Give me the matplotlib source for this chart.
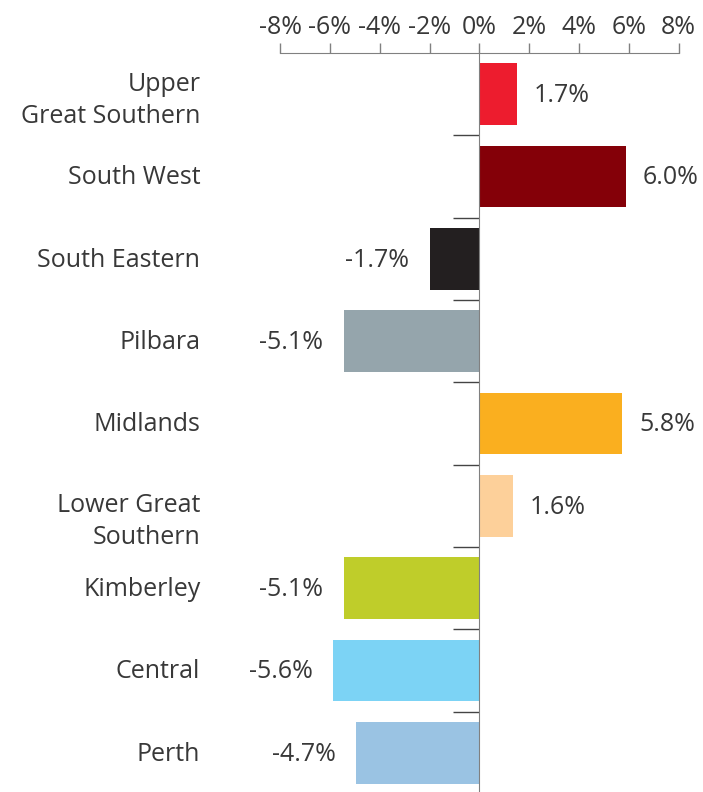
import matplotlib
matplotlib.use("Agg")
import matplotlib.pyplot as plt
from matplotlib.ticker import FixedLocator

regions = ["Upper\nGreat Southern", "South West", "South Eastern", "Pilbara",
           "Midlands", "Lower Great\nSouthern", "Kimberley", "Central", "Perth"]
# bar lengths as drawn in the picture
values = [1.5, 5.9, -1.97, -5.42, 5.74, 1.37, -5.42, -5.86, -4.94]
# printed labels
value_labels = ["1.7%", "6.0%", "-1.7%", "-5.1%", "5.8%", "1.6%", "-5.1%", "-5.6%", "-4.7%"]
colors = ["#ED1C2E", "#840008", "#231F20", "#95A5AC", "#FAAF1F",
          "#FDD09A", "#BFCD2A", "#7CD3F5", "#9AC3E3"]
xticks = [-8, -6, -4, -2, 0, 2, 4, 6, 8]

plt.rcParams["font.family"] = ["Open Sans", "DejaVu Sans"]
text_color = "#383838"
line_color = "#808080"
fs = 18

fig = plt.figure(figsize=(7.03, 7.92), dpi=100)
ax = fig.add_axes([280 / 703, -2 / 792, (678.7 - 280) / 703, 741 / 792])

ypos = list(range(len(regions)))
ax.barh(ypos, values, height=0.75, color=colors, zorder=2)

ax.set_xlim(-8, 8)
ax.set_ylim(len(regions) - 0.5, -0.5)

# top axis
ax.xaxis.tick_top()
ax.set_xticks(xticks)
ax.set_xticklabels([f"{t}%" for t in xticks], fontsize=fs, color=text_color)
ax.tick_params(axis="x", direction="out", length=7, width=1, color=line_color, pad=2)

# zero line carries the category separators
for s in ["right", "bottom"]:
    ax.spines[s].set_visible(False)
ax.spines["top"].set_color(line_color)
ax.spines["left"].set_position(("data", 0))
ax.spines["left"].set_color(line_color)
ax.spines["left"].set_zorder(3)
ax.yaxis.set_major_locator(FixedLocator([i + 0.5 for i in range(len(regions) - 1)]))
ax.set_yticklabels([])
ax.tick_params(axis="y", direction="out", length=19, width=1, color="#444444")

# two-line labels sit a little low in the original
label_shift = {0: -4.5, 5: -11}
for i, name in enumerate(regions):
    ax.annotate(name, (-11.2, i), xytext=(0, label_shift.get(i, -1)),
                textcoords="offset points", ha="right", va="center",
                fontsize=fs, color=text_color, linespacing=1.38,
                annotation_clip=False)

for i, (v, lab) in enumerate(zip(values, value_labels)):
    if v >= 0:
        ax.annotate(lab, (v, i), xytext=(12, -1), textcoords="offset points",
                    ha="left", va="center", fontsize=fs, color=text_color)
    else:
        ax.annotate(lab, (v, i), xytext=(-15, -1), textcoords="offset points",
                    ha="right", va="center", fontsize=fs, color=text_color)

fig.savefig("out.png", dpi=100)
